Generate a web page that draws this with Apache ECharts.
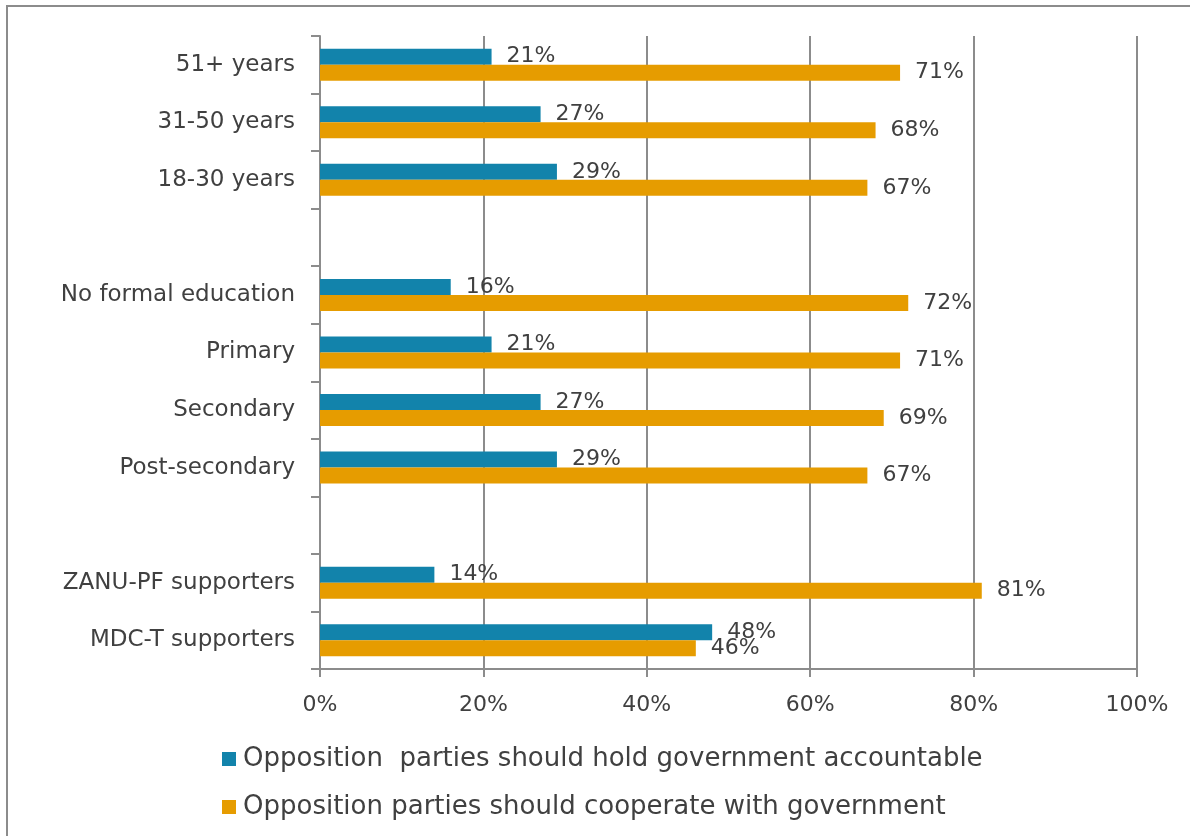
<!DOCTYPE html>
<html>
<head>
<meta charset="utf-8">
<style>
  html, body { margin: 0; padding: 0; background: #ffffff; }
  #chart { width: 1190px; height: 836px; }
</style>
<script src="https://cdn.jsdelivr.net/npm/echarts@6/dist/echarts.min.js"></script>
</head>
<body>
<div id="chart"></div>
<script>
// Group labels, top to bottom; empty strings are spacer rows between groups
const categories = [
  '51+ years', '31-50 years', '18-30 years', '',
  'No formal education', 'Primary', 'Secondary', 'Post-secondary', '',
  'ZANU-PF supporters', 'MDC-T supporters'
];
const seriesNames = [
  'Opposition  parties should hold government accountable',
  'Opposition parties should cooperate with government'
];
const holdAccountable = [21, 27, 29, '-', 16, 21, 27, 29, '-', 14, 48];
const cooperate       = [71, 68, 67, '-', 72, 71, 69, 67, '-', 81, 46];
const xTicks = [0, 20, 40, 60, 80, 100];

const FONT = 'DejaVu Sans';
const TEXT = '#404040';
const LINE = '#8c8c8c';

const chart = echarts.init(document.getElementById('chart'), null, { renderer: 'canvas' });

const barLabel = {
  show: true,
  position: 'right',
  distance: 15,
  formatter: p => p.value + '%',
  fontFamily: FONT,
  fontSize: 22,
  color: TEXT
};

chart.setOption({
  animation: false,
  backgroundColor: '#ffffff',
  graphic: [{
    type: 'rect',
    shape: { x: 7, y: 6, width: 1300, height: 1000 },
    style: { fill: 'none', stroke: LINE, lineWidth: 2 },
    silent: true,
    z: -1
  }],
  grid: { left: 320, right: 53, top: 36, bottom: 167, containLabel: false },
  xAxis: {
    type: 'value',
    min: xTicks[0],
    max: xTicks[xTicks.length - 1],
    interval: xTicks[1] - xTicks[0],
    axisLine: { show: true, lineStyle: { color: LINE, width: 2 } },
    axisTick: { show: true, length: 8, lineStyle: { color: LINE, width: 2 } },
    splitLine: { show: true, lineStyle: { color: LINE, width: 2 } },
    axisLabel: {
      formatter: '{value}%',
      fontFamily: FONT,
      fontSize: 22,
      color: TEXT,
      margin: 25
    }
  },
  yAxis: {
    type: 'category',
    inverse: true,
    data: categories,
    axisLine: { show: true, lineStyle: { color: LINE, width: 2 } },
    axisTick: { show: true, length: 9, lineStyle: { color: LINE, width: 2 } },
    axisLabel: {
      fontFamily: FONT,
      fontSize: 23,
      color: TEXT,
      margin: 25
    }
  },
  legend: {
    orient: 'vertical',
    left: 222,
    top: 745,
    padding: 0,
    itemWidth: 14,
    itemHeight: 14,
    itemGap: 20,
    icon: 'rect',
    textStyle: {
      fontFamily: FONT,
      fontSize: 26,
      lineHeight: 28,
      color: TEXT,
      padding: [0, 0, 0, 2]
    },
    data: seriesNames
  },
  series: [
    {
      name: seriesNames[0],
      type: 'bar',
      data: holdAccountable,
      barWidth: 16,
      barGap: '0%',
      itemStyle: { color: '#1283ab' },
      label: barLabel
    },
    {
      name: seriesNames[1],
      type: 'bar',
      data: cooperate,
      barWidth: 16,
      barGap: '0%',
      itemStyle: { color: '#e69c00' },
      label: barLabel
    }
  ]
});
</script>
</body>
</html>
